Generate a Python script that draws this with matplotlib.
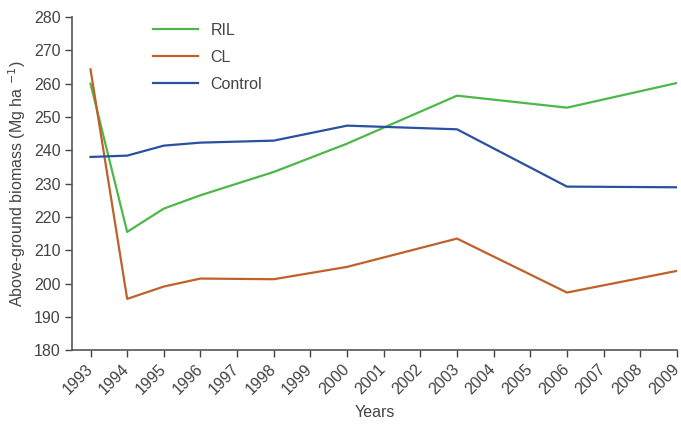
import matplotlib
matplotlib.use('Agg')
import matplotlib.pyplot as plt
from matplotlib.transforms import ScaledTranslation

years = [1993, 1994, 1995, 1996, 1998, 2000, 2003, 2006, 2009]
ril = [260, 215.5, 222.5, 226.5, 233.5, 242, 256.4, 252.8, 260.2]
cl = [264.3, 195.4, 199.1, 201.5, 201.3, 205, 213.5, 197.3, 203.8]
control = [238, 238.4, 241.4, 242.3, 242.9, 247.4, 246.3, 229.1, 228.9]
tick_years = list(range(1993, 2010))

plt.rcParams['font.family'] = ['Liberation Sans', 'DejaVu Sans']
txt = '#444444'

fig = plt.figure(figsize=(6.81, 4.26), dpi=100)
ax = fig.add_axes([0.106, 0.178, 0.888, 0.782])

ax.plot(years, ril, color='#4db848', lw=1.6, label='RIL')
ax.plot(years, cl, color='#c0602a', lw=1.6, label='CL')
ax.plot(years, control, color='#2a50a0', lw=1.6, label='Control')

ax.set_xlim(1992.5, 2009)
ax.set_ylim(180, 280)
ax.set_yticks(range(180, 281, 10))
ax.set_xticks(tick_years)
ax.set_xticklabels([str(y) for y in tick_years], rotation=45, ha='right',
                   rotation_mode='anchor')
ax.tick_params(colors=txt, labelsize=11.5, length=5, width=1)
ax.tick_params(axis='x', pad=3)
# nudge the rotated year labels a bit left so 2009 stays inside
shift = ScaledTranslation(-4 / 72, 0, fig.dpi_scale_trans)
for lab in ax.get_xticklabels():
    lab.set_transform(lab.get_transform() + shift)
for s in ['top', 'right']:
    ax.spines[s].set_visible(False)
for s in ['left', 'bottom']:
    ax.spines[s].set_color('#555555')
    ax.spines[s].set_linewidth(1.2)

ax.set_xlabel('Years', color=txt, fontsize=11.5, labelpad=6)
ax.set_ylabel('Above-ground biomass (Mg ha $^{-1}$)', color=txt, fontsize=11.5)

leg = ax.legend(loc='upper left', bbox_to_anchor=(0.11, 1.025), frameon=False,
                fontsize=11.5, handlelength=2.8, labelspacing=0.75)
for t in leg.get_texts():
    t.set_color(txt)

fig.savefig('out.png', dpi=100)
